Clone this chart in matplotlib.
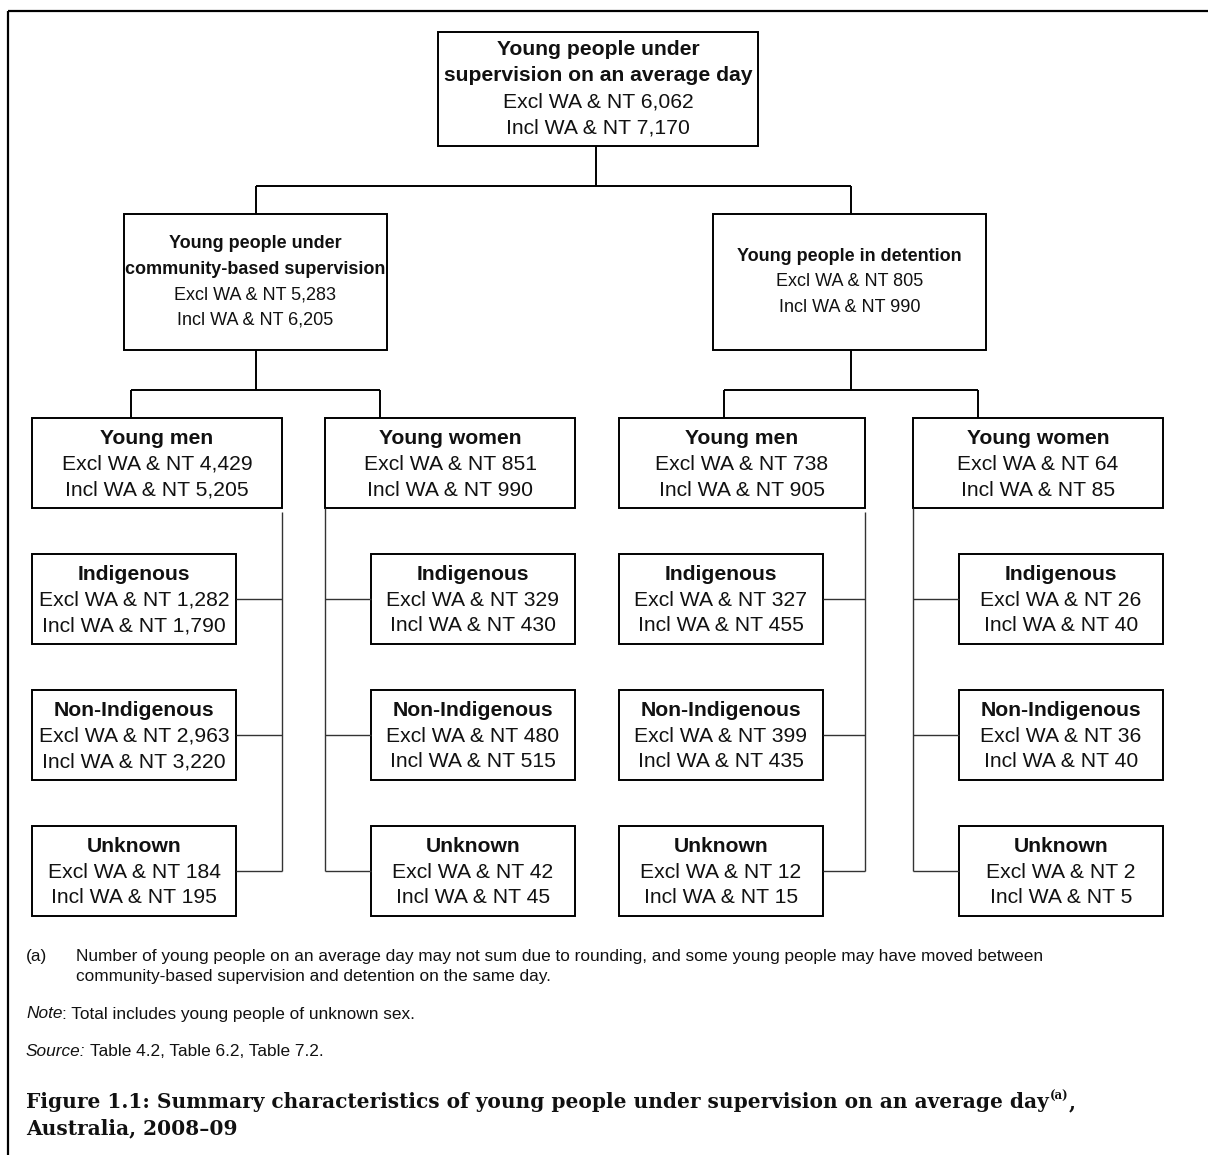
import matplotlib.pyplot as plt
from matplotlib.patches import Rectangle

# ---- data ----
top_title = ["Young people under", "supervision on an average day"]
top_excl = 6062
top_incl = 7170

program_titles = [["Young people under", "community-based supervision"],
                  ["Young people in detention"]]
program_excl = [5283, 805]
program_incl = [6205, 990]

sex_titles = ["Young men", "Young women", "Young men", "Young women"]
sex_excl = [4429, 851, 738, 64]
sex_incl = [5205, 990, 905, 85]

status_titles = ["Indigenous", "Non-Indigenous", "Unknown"]
status_excl = [[1282, 2963, 184], [329, 480, 42], [327, 399, 12], [26, 36, 2]]
status_incl = [[1790, 3220, 195], [430, 515, 45], [455, 435, 15], [40, 40, 5]]

footnote_a = ["Number of young people on an average day may not sum due to rounding, and some young people may have moved between",
              "community-based supervision and detention on the same day."]
note_text = ": Total includes young people of unknown sex."
source_text = "Table 4.2, Table 6.2, Table 7.2."
caption_1 = "Figure 1.1: Summary characteristics of young people under supervision on an average day"
caption_2 = "Australia, 2008\u201309"

# ---- layout (pixels) ----
W, H = 1208, 1155
SANS = "Liberation Sans"
FS = 15.2
LS = 25.5

fig = plt.figure(figsize=(W / 100, H / 100), dpi=100)
ax = fig.add_axes([0, 0, 1, 1])
ax.set_xlim(0, W)
ax.set_ylim(H, 0)
ax.axis("off")


def fmt(v):
    return "{:,}".format(v)


def box(x0, y0, x1, y1, bold_lines, excl, incl, ls=LS, fs=FS, dy=0):
    ax.add_patch(Rectangle((x0, y0), x1 - x0, y1 - y0, fill=False, ec="black", lw=1.4))
    lines = [(s, "bold") for s in bold_lines]
    lines += [("Excl WA & NT " + fmt(excl), "normal"), ("Incl WA & NT " + fmt(incl), "normal")]
    cy = (y0 + y1) / 2 + dy
    start = cy - (len(lines) - 1) / 2 * ls
    for i, (s, w) in enumerate(lines):
        ax.text((x0 + x1) / 2, start + i * ls, s, ha="center", va="center",
                fontsize=fs, fontweight=w, family=SANS, color="#111111")


def line(xs, ys, lw=1.4, c="black"):
    ax.plot(xs, ys, color=c, lw=lw, solid_capstyle="butt")


# outer frame
line([8, 8], [H, 11], lw=1.6)
line([8, W], [11, 11], lw=1.6)

# top level
box(438, 32, 758, 146, top_title, top_excl, top_incl, ls=26.3)
line([596, 596], [146, 186])
line([256, 851], [186, 186])

prog_boxes = [(124, 214, 387, 350), (713, 214, 986, 350)]
prog_cx = [256, 851]
sex_boxes = [(32, 418, 282, 508), (325, 418, 575, 508),
             (619, 418, 865, 508), (913, 418, 1163, 508)]
sex_tops = [(131, 380), (724, 978)]
for i, b in enumerate(prog_boxes):
    line([prog_cx[i], prog_cx[i]], [186, b[1]])
    box(*b, program_titles[i], program_excl[i], program_incl[i], fs=13.0)
    line([prog_cx[i], prog_cx[i]], [b[3], 390])
    l, r = sex_tops[i]
    line([l, r], [390, 390])
    line([l, l], [390, 418])
    line([r, r], [390, 418])

status_rows = [(554, 644), (690, 780), (826, 916)]
for j, b in enumerate(sex_boxes):
    box(*b, [sex_titles[j]], sex_excl[j], sex_incl[j], ls=26, dy=1.5)
    if j % 2 == 0:
        trunk = b[2]
        bx0, bx1 = b[0], b[0] + 204
        conn = (bx1, trunk)
        y_start = 512
    else:
        trunk = b[0]
        bx0, bx1 = b[0] + 46, b[2]
        conn = (trunk, bx0)
        y_start = b[3]
    mids = [(r0 + r1) / 2 for r0, r1 in status_rows]
    line([trunk, trunk], [y_start, mids[-1]], lw=1.0, c="#333333")
    for k, (r0, r1) in enumerate(status_rows):
        line(list(conn), [mids[k], mids[k]], lw=1.0, c="#333333")
        box(bx0, r0, bx1, r1, [status_titles[k]], status_excl[j][k], status_incl[j][k], dy=1)

# ---- footnotes ----
renderer = fig.canvas.get_renderer()
FN = 12.4


def runs(x, y, parts, **kw):
    for s, style, gap in parts:
        t = ax.text(x, y, s, ha="left", va="center", fontstyle=style, **kw)
        x += t.get_window_extent(renderer=renderer).width + gap
    return x


ax.text(26, 956, "(a)", ha="left", va="center", fontsize=FN, family=SANS, color="#111111")
ax.text(76, 956, footnote_a[0], ha="left", va="center", fontsize=FN, family=SANS, color="#111111")
ax.text(76, 976, footnote_a[1], ha="left", va="center", fontsize=FN, family=SANS, color="#111111")
runs(26, 1014, [("Note", "italic", 0), (note_text, "normal", 0)], fontsize=FN, family=SANS, color="#111111")
runs(26, 1051, [("Source:", "italic", 4), (source_text, "normal", 0)], fontsize=FN, family=SANS, color="#111111")

CAP = 14.5
xe = runs(26, 1102, [(caption_1, "normal", 1)], fontsize=CAP, family="DejaVu Serif",
          fontweight="bold", color="#111111")
xe = runs(xe, 1096, [("(a)", "normal", 0)], fontsize=8.5, family="DejaVu Serif",
          fontweight="bold", color="#111111")
runs(xe, 1102, [(",", "normal", 0)], fontsize=CAP, family="DejaVu Serif",
     fontweight="bold", color="#111111")
ax.text(26, 1128, caption_2, ha="left", va="center", fontsize=CAP, family="DejaVu Serif",
        fontweight="bold", color="#111111")

fig.savefig("out.png", dpi=100)
